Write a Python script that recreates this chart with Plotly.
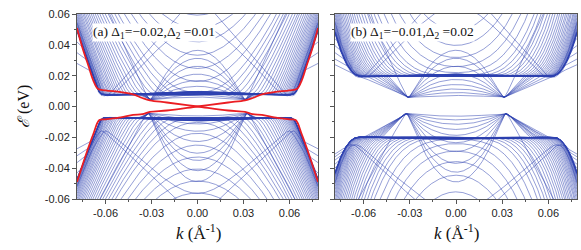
import numpy as np
import plotly.graph_objects as go

# ---------------- values ----------------
K_LIM = 0.0786                       # half width of the k axis (1/Angstrom)
E_LIM = 0.06                         # half height of the energy axis (eV)
x_tick_vals = [-0.06, -0.03, 0.0, 0.03, 0.06]
x_tick_text = ["-0.06", "-0.03", "0.00", "0.03", "0.06"]
y_tick_vals = [-0.06, -0.04, -0.02, 0.0, 0.02, 0.04, 0.06]
y_tick_text = ["-0.06", "-0.04", "-0.02", "0.00", "0.02", "0.04", "0.06"]
panel_labels = ["(a) \u0394<sub>1</sub>=\u22120.02,\u0394<sub>2</sub> =0.01",
                "(b) \u0394<sub>1</sub>=\u22120.01,\u0394<sub>2</sub> =0.02"]

# transverse sub-band momenta of the ribbon (1/Angstrom)
sub_ky = [0.000, 0.002, 0.004, 0.006, 0.008, 0.010, 0.012, 0.014, 0.016, 0.018,
          0.020, 0.022, 0.024, 0.026, 0.028, 0.030, 0.032, 0.034, 0.036, 0.038,
          0.040, 0.042, 0.044, 0.046, 0.048, 0.050, 0.052, 0.054, 0.056, 0.058,
          0.060, 0.062, 0.064, 0.067, 0.070, 0.073, 0.076, 0.079, 0.082, 0.085]

# inner (Mexican-hat) bands: V point (k, E), dome heights at k=0, arm slopes (eV*A)
a_up_V = [0.031, 0.0045]
a_up_dome = [0.0345, 0.029, 0.0235, 0.018, 0.0135, 0.0095, 0.006, 0.0035, 0.002]
a_up_slope = [2.2, 2.0, 1.7, 1.4, 1.15, 0.95, 0.8, 0.65, 0.5]
a_dn_V = [0.032, -0.0045]
a_dn_dome = [0.047, 0.0395, 0.0325, 0.0275, 0.0195, 0.0125, 0.0075, 0.004, 0.002]
a_dn_slope = [1.85, 1.6, 1.4, 1.2, 1.0, 0.85, 0.7, 0.6, 0.5]
b_up_V = [0.031, 0.006]
b_up_dome = [0.033, 0.027, 0.0215, 0.0165, 0.0125, 0.009, 0.006, 0.0035, 0.0015]
b_up_slope = [2.2, 1.2, 1.05, 0.93, 0.82, 0.72, 0.62, 0.53, 0.45]
b_dn_V = [0.032, -0.0047]
b_dn_dome = [0.047, 0.040, 0.034, 0.026, 0.020, 0.015, 0.011, 0.0075, 0.0045, 0.002]
b_dn_slope = [1.85, 1.1, 1.0, 0.92, 0.85, 0.78, 0.72, 0.66, 0.61, 0.57]

# outer bands: shelf energy, shelf edge k, linear rise, quadratic rise, inner tilt
a_up_shelf = [0.0092, 0.064, 2.9, 0.0, 0.045]
a_dn_shelf = [-0.0086, 0.063, 2.6, 0.0, 0.045]
b_up_shelf = [0.0195, 0.062, 0.2, 110.0, 0.025]
b_dn_shelf = [-0.0200, 0.064, 0.3, 110.0, 0.025]

# large cone bands: apex radius, slope
a_up_cone, a_dn_cone = [0.0585, 1.1], [0.072, 0.9]
b_up_cone, b_dn_cone = [0.060, 1.1], [0.072, 0.9]
cone_ky = [0.0, 0.018]

# edge states of panel (a): control points (k, E) of one branch; the other is k -> -k
edge_k = [-0.0786, -0.075, -0.071, -0.068, -0.065, -0.06, -0.05, -0.042, -0.036, -0.031,
          -0.02, 0.0, 0.02, 0.031, 0.036, 0.042, 0.05, 0.06, 0.064, 0.068, 0.072, 0.076, 0.0786]
edge_E = [0.051, 0.038, 0.026, 0.017, 0.0115, 0.0105, 0.0093, 0.0078, 0.0055, 0.0040,
          0.0026, 0.0, -0.0026, -0.0035, -0.0050, -0.0054, -0.0070, -0.0083, -0.0088, -0.018, -0.029, -0.041, -0.049]

# ---------------- build the curves ----------------
kx = np.linspace(-K_LIM, K_LIM, 1201)


def sp(x, w):
    return 0.5 * (x + np.sqrt(x * x + w * w)) - 0.5 * w


def soft_toward(e, env, sign, eps=0.0006):
    # soft min (sign>0) / soft max (sign<0) of e and env
    return 0.5 * (e + env - sign * np.sqrt((e - env) ** 2 + eps ** 2))


def join(curves):
    xs, ys = [], []
    for c in curves:
        xs.extend(kx.tolist() + [None])
        ys.extend(c.tolist() + [None])
    return xs, ys


def shelf_band(q, shelf, sign, w):
    Es, kg, c1, c2, tilt = shelf
    d = sp(q - kg, w)
    return Es + sign * (c1 * d + c2 * d * d + tilt * sp(kg - q, 0.002))


def inner_family(V, domes, slopes, shelf, sign, w):
    kV, EV = V
    env = shelf_band(np.abs(kx), shelf, sign, w)
    out = []
    for i, (h, s) in enumerate(zip(domes, slopes)):
        a = 2 * h / kV
        u = (kV ** 2 - kx ** 2) / (2 * kV)
        e = EV + sign * (a * sp(u, 0.0012) + s * sp(np.abs(kx) - kV, 0.0012))
        if i > 0:
            e = np.where(np.abs(kx) > kV, soft_toward(e, env, sign), e)
        out.append(e)
    return out


def outer_family(shelf, sign, w):
    return [shelf_band(np.sqrt(kx ** 2 + ky ** 2), shelf, sign, w) for ky in sub_ky]


def cone_family(shelf, cone, sign, w):
    kc, v = cone
    out = []
    for ky in cone_ky:
        q = np.sqrt(kx ** 2 + ky ** 2)
        out.append(shelf_band(q, shelf, sign, w) + sign * v * sp(kc - q, 0.002))
    return out


BLUE = "rgba(45,65,175,0.85)"
RED = "rgb(235,30,35)"

fig = go.Figure()
panels = [
    ("x", "y", (a_up_V, a_up_dome, a_up_slope, a_up_shelf, a_up_cone),
     (a_dn_V, a_dn_dome, a_dn_slope, a_dn_shelf, a_dn_cone), 0.0015),
    ("x2", "y2", (b_up_V, b_up_dome, b_up_slope, b_up_shelf, b_up_cone),
     (b_dn_V, b_dn_dome, b_dn_slope, b_dn_shelf, b_dn_cone), 0.003),
]
for xa, ya, up, dn, w in panels:
    curves = []
    for (V, domes, slopes, shelf, cone), sign in ((up, 1), (dn, -1)):
        curves += inner_family(V, domes, slopes, shelf, sign, w)
        curves += outer_family(shelf, sign, w)
        curves += cone_family(shelf, cone, sign, w)
    xs, ys = join(curves)
    fig.add_trace(go.Scatter(x=xs, y=ys, mode="lines", xaxis=xa, yaxis=ya,
                             line=dict(color=BLUE, width=0.6), hoverinfo="skip",
                             showlegend=False))

fig.add_trace(go.Scatter(x=edge_k, y=edge_E, mode="lines", line=dict(color=RED, width=1.8, shape="spline"),
                         xaxis="x", yaxis="y", showlegend=False, hoverinfo="skip"))
fig.add_trace(go.Scatter(x=[-k for k in edge_k], y=edge_E, mode="lines",
                         line=dict(color=RED, width=1.8, shape="spline"),
                         xaxis="x", yaxis="y", showlegend=False, hoverinfo="skip"))

tickfont = dict(family="Liberation Sans, Arial", size=11, color="#222")
axis_common = dict(showgrid=False, zeroline=False, showline=True, mirror=True,
                   linecolor="#555", linewidth=1, ticks="outside", ticklen=4,
                   tickcolor="#555", tickfont=tickfont, automargin=False)
xminor = dict(tickvals=[-0.075, -0.045, -0.015, 0.015, 0.045, 0.075], ticks="outside",
              ticklen=2, tickcolor="#555")
yminor = dict(tickvals=[-0.05, -0.03, -0.01, 0.01, 0.03, 0.05], ticks="outside",
              ticklen=2, tickcolor="#555")

fig.update_layout(
    width=581, height=250, margin=dict(l=77, r=4, t=14, b=51, autoexpand=False),
    paper_bgcolor="white", plot_bgcolor="white",
    xaxis=dict(domain=[0, 0.482], range=[-K_LIM, K_LIM], tickvals=x_tick_vals,
               ticktext=x_tick_text, minor=xminor, **axis_common),
    xaxis2=dict(domain=[0.516, 1.0], range=[-K_LIM, K_LIM], tickvals=x_tick_vals,
                ticktext=x_tick_text, minor=xminor, anchor="y2", **axis_common),
    yaxis=dict(range=[-E_LIM, E_LIM], tickvals=y_tick_vals, ticktext=y_tick_text,
               minor=yminor, **axis_common),
    yaxis2=dict(range=[-E_LIM, E_LIM], tickvals=y_tick_vals, ticktext=[""] * 7,
                minor=yminor, anchor="x2", **axis_common),
)

serif = "Liberation Serif, Times New Roman"
fig.add_annotation(text=panel_labels[0], xref="paper", yref="paper", x=(92 - 77) / 500,
                   y=(199 - 32) / 185, xanchor="left", yanchor="middle", showarrow=False,
                   font=dict(family=serif, size=13.5, color="#111"), bgcolor="white", borderpad=0)
fig.add_annotation(text=panel_labels[1], xref="paper", yref="paper", x=(350 - 77) / 500,
                   y=(199 - 32) / 185, xanchor="left", yanchor="middle", showarrow=False,
                   font=dict(family=serif, size=13.5, color="#111"), bgcolor="white", borderpad=0)
for cx in (198, 456):
    fig.add_annotation(text="<i>k</i> (\u00c5<sup>-1</sup>)", xref="paper", yref="paper",
                       x=(cx - 77) / 500, y=(199 - 232) / 185, xanchor="center", yanchor="middle",
                       showarrow=False, font=dict(family=serif, size=17, color="#111"))
fig.add_annotation(text="<i>\u2130</i> (eV)", xref="paper", yref="paper", x=(24 - 77) / 500,
                   y=(199 - 107) / 185, xanchor="center", yanchor="middle", textangle=-90,
                   showarrow=False, font=dict(family=serif, size=16, color="#111"))

fig.write_html("out.html", config={"displayModeBar": False},
               post_script="document.body.style.margin='0px';")
